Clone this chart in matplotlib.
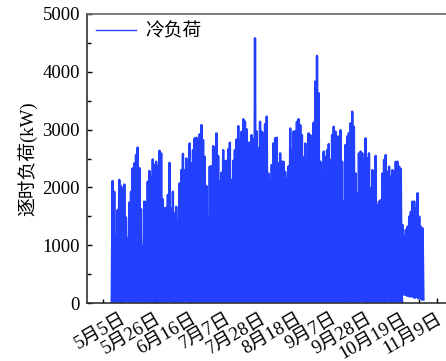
import numpy as np
import matplotlib
matplotlib.use("Agg")
from matplotlib import pyplot as plt
from matplotlib.ticker import MultipleLocator, FixedLocator

plt.rcParams["font.family"] = ["Liberation Serif", "Noto Sans CJK SC"]
plt.rcParams["font.size"] = 13.5

# daily peak of the hourly cooling load (kW), one value per day from 4/30
daily_peak = [
    2110, 1925, 1160, 1610, 2130, 2025, 1985, 2050, 1480, 1125,
    1735, 1925, 2330, 2415, 2560, 2690, 2335, 1625, 975, 1755,
    1745, 2100, 2285, 2170, 2485, 2390, 2445, 2360, 2635, 2590,
    1795, 1640, 1645, 1870, 2425, 1640, 1925, 1550, 1665, 1405,
    2070, 2300, 2580, 2300, 2500, 2300, 2760, 2415, 2645, 2850,
    2860, 2775, 2920, 3080, 2820, 2530, 2025, 1495, 2360, 2365,
    2715, 2690, 2935, 2545, 2100, 2255, 2645, 2455, 2460, 2660,
    2775, 2130, 2460, 2645, 2830, 3060, 2820, 2965, 3180, 3140,
    3005, 2775, 2775, 2905, 2830, 4580, 2965, 2675,
    3135, 2965, 2940, 3095, 3225, 2240, 2130, 2390, 2760, 2850,
    2860, 2415, 2590, 2445, 2445, 2270, 2155, 2365, 3020, 2645,
    2965, 2975, 3135, 3180, 3080, 2905, 2520, 2760, 2500, 2935,
    2905, 2830, 3120, 3830, 4275, 3630, 2445, 2255, 2620, 2530,
    2645, 2750, 2475, 2905, 3050, 2965, 2880, 2880, 2990, 2445,
    1755, 2735, 2880, 2940, 3110, 3310, 3050, 2240, 1900, 2590,
    2620, 2590, 2475, 2850, 2500, 2590, 1985, 2300, 2215, 2545,
    1695, 1755, 1780, 2240, 2475, 2560, 2270, 2360, 2185, 2300,
    2270, 2445, 2445, 2360, 2320, 1350, 1150, 1265, 1320, 1495,
    1580, 1755, 1755, 1640, 1900, 1495, 1320, 1290,
]

# night-time minimum of each day (kW)
daily_low = [
    0, 0, 40, 0, 0, 40, 0, 0, 0, 40,
    0, 40, 0, 0, 0, 0, 0, 0, 50, 0,
    0, 0, 0, 0, 0, 0, 40, 0, 0, 0,
    0, 0, 0, 0, 40, 0, 0, 0, 0, 0,
    0, 0, 0, 0, 40, 0, 0, 0, 0, 0,
    0, 0, 0, 0, 0, 0, 0, 40, 0, 0,
    0, 0, 0, 0, 0, 0, 40, 0, 0, 0,
    40, 0, 0, 0, 0, 0, 0, 0, 0, 0,
    0, 0, 0, 0, 0, 0, 0, 0, 0, 0,
    0, 0, 0, 0, 0, 40, 0, 0, 40, 0,
    0, 0, 0, 0, 0, 0, 30, 0, 0, 0,
    0, 0, 0, 0, 0, 0, 0, 0, 0, 0,
    40, 0, 0, 0, 0, 0, 0, 0, 0, 40,
    0, 0, 0, 0, 0, 0, 0, 0, 0, 0,
    40, 0, 0, 0, 0, 0, 0, 40, 0, 40,
    0, 0, 0, 0, 40, 0, 0, 0, 0, 0,
    40, 0, 0, 0, 0, 40, 0, 0, 0, 0,
    0, 0, 0, 0, 150, 140, 130, 120, 110, 120,
    100, 90, 110, 80, 100, 60,
]

tick_hours = [120, 624, 1128, 1632, 2136, 2640, 3144, 3648, 4152, 4656]
tick_labels = ["5月5日", "5月26日", "6月16日", "7月7日", "7月28日",
               "8月18日", "9月7日", "9月28日", "10月19日", "11月9日"]

peak = np.asarray(daily_peak, dtype=float)
low = np.asarray(daily_low, dtype=float)
ndays = len(peak)

# low at midnight, peak at noon of each day
hours = np.empty(2 * ndays + 1)
load = np.empty(2 * ndays + 1)
hours[0:-1:2] = np.arange(ndays) * 24
hours[1::2] = np.arange(ndays) * 24 + 12
hours[-1] = ndays * 24
load[0:-1:2] = low
load[1::2] = peak
load[-1] = low[-1]

fig = plt.figure(figsize=(4.46, 3.61), dpi=100)
axes = fig.add_axes([87 / 446, 58 / 361, 383 / 446, 289 / 361])

axes.plot(hours, load, color="#2340ff", linewidth=1.7, label="冷负荷")

axes.set_xlim(-354, 5131)
axes.set_ylim(0, 5000)
axes.yaxis.set_major_locator(MultipleLocator(1000))
axes.yaxis.set_minor_locator(MultipleLocator(500))
axes.xaxis.set_major_locator(FixedLocator(tick_hours))
axes.xaxis.set_minor_locator(FixedLocator([h - 252 for h in tick_hours]))
axes.set_xticklabels(tick_labels, rotation=30, ha="right",
                     rotation_mode="anchor")

axes.tick_params(which="both", direction="in", top=False, right=False)
axes.tick_params(which="major", length=3.5, width=1.0, pad=5)
axes.tick_params(which="minor", length=3.0, width=1.0)
axes.spines["right"].set_visible(False)
for side in ["left", "bottom", "top"]:
    axes.spines[side].set_linewidth(1.2)
    axes.spines[side].set_color("#333333")
axes.spines["top"].set_color("#666666")

axes.set_ylabel("逐时负荷(kW)")
legend = axes.legend(loc="upper left", frameon=False, borderaxespad=0.1,
                     handlelength=2.1, handletextpad=0.5)
legend.get_lines()[0].set_linewidth(1.0)

fig.savefig("out.png", dpi=100)
